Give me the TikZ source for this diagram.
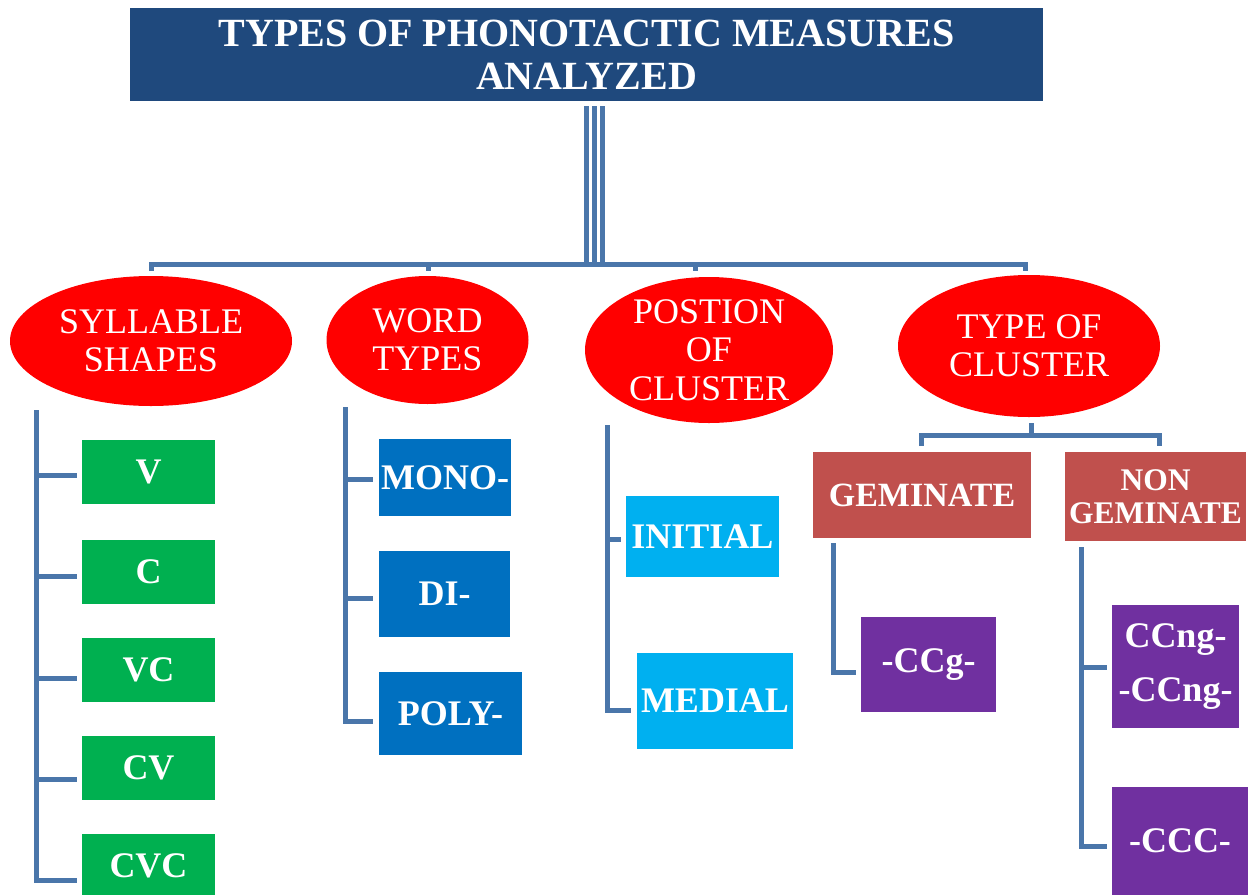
\documentclass[tikz,border=0pt]{standalone}
\usepackage{fontspec}
\setmainfont{Liberation Serif}
\usetikzlibrary{shapes.geometric}
\definecolor{titleblue}{HTML}{1F497D}
\definecolor{linec}{RGB}{74,118,170}
\definecolor{greenc}{HTML}{00B050}
\definecolor{bluec}{HTML}{0070C0}
\definecolor{cyanc}{HTML}{00B0F0}
\definecolor{brickc}{HTML}{C0504D}
\definecolor{purplec}{HTML}{7030A0}
\begin{document}
\begin{tikzpicture}[x=1pt,y=-1pt,
  conn/.style={draw=linec, line width=5pt},
  oval/.style={ellipse, fill=red, text=white, inner sep=0pt, align=center,
    font=\fontsize{36}{38.5}\selectfont},
  box/.style={rectangle, inner sep=0pt, text=white, align=center,
    font=\bfseries\fontsize{36}{40}\selectfont},
  gbox/.style={box, fill=greenc, minimum width=133pt, minimum height=64pt},
  bbox/.style={box, fill=bluec},
  cbox/.style={box, fill=cyanc},
  rbox/.style={box, fill=brickc},
  pbox/.style={box, fill=purplec},
]
\useasboundingbox (0,0) rectangle (1257,894);

% title
\node[rectangle, fill=titleblue, text=white, inner sep=0pt, minimum width=913pt,
  minimum height=93pt, align=center, font=\bfseries\fontsize{40}{43}\selectfont]
  (title) at (586.5,54.5) {TYPES OF PHONOTACTIC MEASURES\\ANALYZED};

% ellipses
\node[oval, minimum width=282pt, minimum height=130pt] (syl) at (151,341) {SYLLABLE\\SHAPES};
\node[oval, minimum width=202pt, minimum height=128pt] (word) at (427.5,340) {WORD\\TYPES};
\node[oval, minimum width=248pt, minimum height=146pt] (pos) at (709,350) {POSTION\\OF\\CLUSTER};
\node[oval, minimum width=262pt, minimum height=142pt] (typ) at (1029,346) {TYPE OF\\CLUSTER};

% green boxes
\node[gbox] (V) at (148.5,472) {V};
\node[gbox] (C) at (148.5,571.5) {C};
\node[gbox] (VC) at (148.5,670) {VC};
\node[gbox] (CV) at (148.5,768) {CV};
\node[gbox] (CVC) at (148.5,866) {CVC};

% blue boxes
\node[bbox, minimum width=132pt, minimum height=77pt] (mono) at (445,477.5) {MONO-};
\node[bbox, minimum width=131pt, minimum height=86pt] (di) at (444.5,594) {DI-};
\node[bbox, minimum width=143pt, minimum height=83pt] (poly) at (450.5,713.5) {POLY-};

% cyan boxes
\node[cbox, minimum width=153pt, minimum height=81pt] (ini) at (702.5,536.5) {INITIAL};
\node[cbox, minimum width=156pt, minimum height=96pt] (med) at (715,701) {MEDIAL};

% brick boxes
\node[rbox, minimum width=218pt, minimum height=86pt, font=\bfseries\fontsize{34}{38}\selectfont]
  (gem) at (922,495) {GEMINATE};
\node[rbox, minimum width=181pt, minimum height=89pt, font=\bfseries\fontsize{31.5}{33}\selectfont]
  (ngem) at (1155.5,496.5) {NON\\GEMINATE};

% purple boxes
\node[pbox, minimum width=135pt, minimum height=95pt] (ccg) at (928.5,664.5) {-CCg-};
\node[pbox, minimum width=127pt, minimum height=123pt, font=\bfseries\fontsize{36}{54}\selectfont]
  (ccng) at (1175.5,666.5) {CCng-\\-CCng-};
\node[pbox, minimum width=136pt, minimum height=108pt] (ccc) at (1180,841) {-CCC-};

% ---- connectors: top
\coordinate (ta1) at (586.5,106); \coordinate (tb1) at (586.5,265);
\coordinate (ta2) at (594.5,106); \coordinate (tb2) at (594.5,265);
\coordinate (ta3) at (602.5,106); \coordinate (tb3) at (602.5,265);
\draw[conn] (ta1) -- (tb1);
\draw[conn] (ta2) -- (tb2);
\draw[conn] (ta3) -- (tb3);

\coordinate (d1) at (151.5,271); \coordinate (d2) at (428,271);
\coordinate (d3) at (695,271);   \coordinate (d4) at (1025.5,271);
\coordinate (bus) at (0,264.5);
\draw[conn] (d1) -- (d1 |- bus) -- (d4 |- bus) -- (d4);
\draw[conn] (d2 |- bus) -- (d2);
\draw[conn] (d3 |- bus) -- (d3);

% ---- syllable trunk
\coordinate (sT) at (36,410); \coordinate (sB) at (36,880);
\coordinate (s1) at (36,475); \coordinate (s2) at (36,576);
\coordinate (s3) at (36,678); \coordinate (s4) at (36,779);
\draw[conn] (sT) -- (sB) -- ([xshift=-5pt]sB -| CVC.west);
\draw[conn] (s1) -- ([xshift=-5pt]s1 -| V.west);
\draw[conn] (s2) -- ([xshift=-5pt]s2 -| C.west);
\draw[conn] (s3) -- ([xshift=-5pt]s3 -| VC.west);
\draw[conn] (s4) -- ([xshift=-5pt]s4 -| CV.west);

% ---- word types trunk
\coordinate (wT) at (345.5,407); \coordinate (wB) at (345.5,721);
\coordinate (w1) at (345.5,479); \coordinate (w2) at (345.5,598);
\draw[conn] (wT) -- (wB) -- ([xshift=-6pt]wB -| poly.west);
\draw[conn] (w1) -- ([xshift=-6pt]w1 -| mono.west);
\draw[conn] (w2) -- ([xshift=-6pt]w2 -| di.west);

% ---- position trunk
\coordinate (pT) at (607,425); \coordinate (pB) at (607,710);
\coordinate (p1) at (607,539);
\draw[conn] (pT) -- (pB) -- ([xshift=-6pt]pB -| med.west);
\draw[conn] (p1) -- ([xshift=-5pt]p1 -| ini.west);

% ---- type of cluster bus
\coordinate (gS) at (1031,423); \coordinate (gbus) at (0,435);
\coordinate (gL) at (921.5,446); \coordinate (gR) at (1159.5,446);
\draw[conn] (gS) -- (gS |- gbus);
\draw[conn] (gL) -- (gL |- gbus) -- (gR |- gbus) -- (gR);

% ---- geminate trunk
\coordinate (gT) at (833,543); \coordinate (gB) at (833,672);
\draw[conn] (gT) -- (gB) -- ([xshift=-5pt]gB -| ccg.west);

% ---- non geminate trunk
\coordinate (nT) at (1081,547); \coordinate (nB) at (1081,846);
\coordinate (n1) at (1081,667);
\draw[conn] (nT) -- (nB) -- ([xshift=-5pt]nB -| ccc.west);
\draw[conn] (n1) -- ([xshift=-5pt]n1 -| ccng.west);
\end{tikzpicture}
\end{document}
